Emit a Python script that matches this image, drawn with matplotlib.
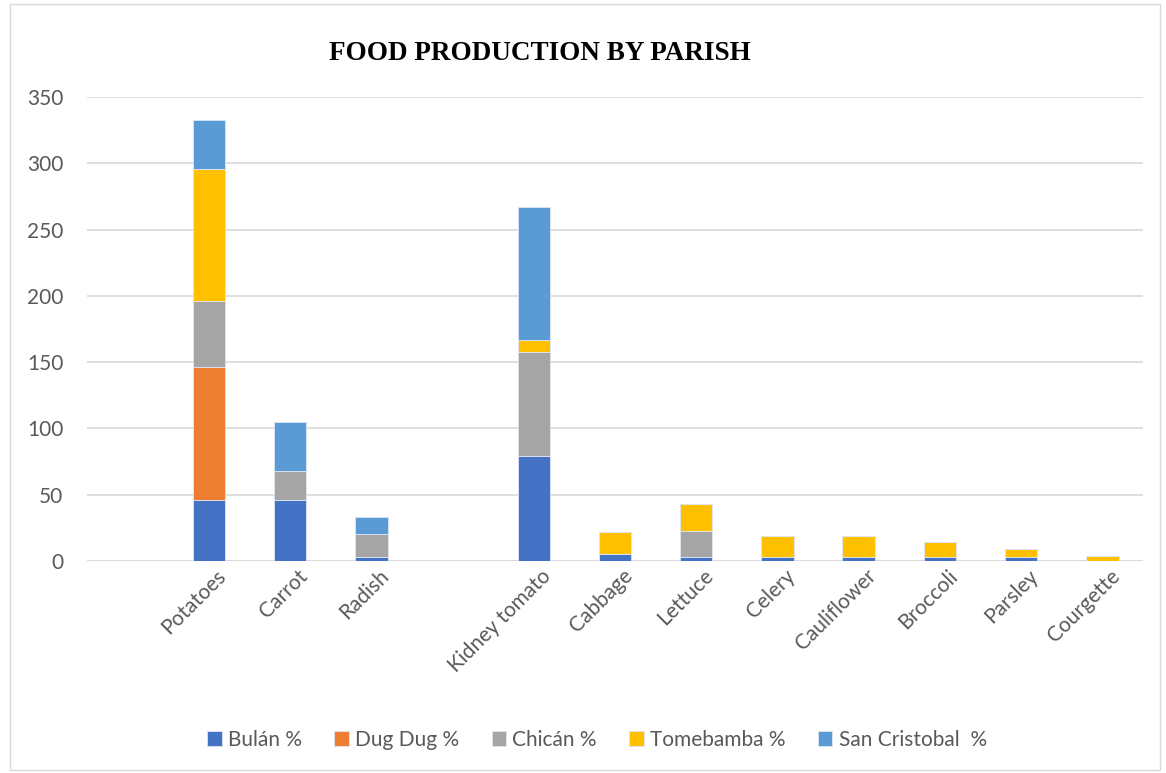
import numpy as np
import matplotlib.pyplot as plt
import matplotlib.transforms as mtransforms
from matplotlib.patches import Rectangle

# categories (empty slots are blank categories in the original sheet)
crops = ['', 'Potatoes', 'Carrot', 'Radish', '', 'Kidney tomato', 'Cabbage',
         'Lettuce', 'Celery', 'Cauliflower', 'Broccoli', 'Parsley', 'Courgette']
bulan = [0, 46, 46, 3, 0, 79, 5.5, 3, 3, 3, 3, 3, 0]
dug_dug = [0, 100, 0, 0, 0, 0, 0, 0, 0, 0, 0, 0, 0]
chican = [0, 50, 22, 17, 0, 79, 0, 20, 0, 0, 0, 0, 0]
tomebamba = [0, 100, 0, 0, 0, 9, 16, 20, 16, 16, 11, 6, 4]
san_cristobal = [0, 37, 37, 13, 0, 100, 0, 0, 0, 0, 0, 0, 0]

series = [('Bulán %', bulan, '#4472C4'),
          ('Dug Dug %', dug_dug, '#ED7D31'),
          ('Chicán %', chican, '#A5A5A5'),
          ('Tomebamba %', tomebamba, '#FFC000'),
          ('San Cristobal  %', san_cristobal, '#5B9BD5')]

plt.rcParams['font.family'] = ['Lato', 'DejaVu Sans']

fig = plt.figure(figsize=(11.66, 7.73), dpi=100)
ax = fig.add_axes([87/1166, 1-561/773, (1143-87)/1166, (561-97)/773])

x = np.arange(len(crops))
bottom = np.zeros(len(crops))
for name, vals, col in series:
    vals = np.array(vals, dtype=float)
    ax.bar(x, vals, 0.4, bottom=bottom, color=col, label=name,
           edgecolor='#dde6f2', linewidth=0.6, zorder=3)
    bottom += vals

ax.set_xlim(-0.5, len(crops) - 0.5)
ax.set_ylim(0, 350)
ax.set_yticks(range(0, 351, 50))
ax.yaxis.grid(True, color='#d9d9d9', linewidth=1.2, zorder=0)
for s in ax.spines.values():
    s.set_visible(False)
ax.axhline(0, color='#d9d9d9', linewidth=1.2, zorder=2)
ax.tick_params(axis='both', length=0, labelsize=15, colors='#595959')
ax.tick_params(axis='y', pad=17)
ax.set_xticks(x)
ax.set_xticklabels(crops, rotation=45, ha='right', rotation_mode='anchor')
shift = mtransforms.ScaledTranslation(0.07, 0.0, fig.dpi_scale_trans)
for lbl in ax.get_xticklabels():
    lbl.set_transform(lbl.get_transform() + shift)

fig.text(540/1166, 1-53/773, 'FOOD PRODUCTION BY PARISH', ha='center', va='center',
         fontsize=19.5, fontweight='bold', family='Liberation Serif', color='black')

leg = fig.legend(loc='center', bbox_to_anchor=(597/1166, 1-740/773), ncol=5, frameon=False,
                 fontsize=15, handlelength=0.7, handleheight=0.75, handletextpad=0.3,
                 columnspacing=1.55)
for t in leg.get_texts():
    t.set_color('#595959')

fig.patches.append(Rectangle((10/1166, 3/773), 1150/1166, 766/773, transform=fig.transFigure,
                             fill=False, edgecolor='#d9d9d9', linewidth=1))

fig.savefig('out.png', dpi=100)
